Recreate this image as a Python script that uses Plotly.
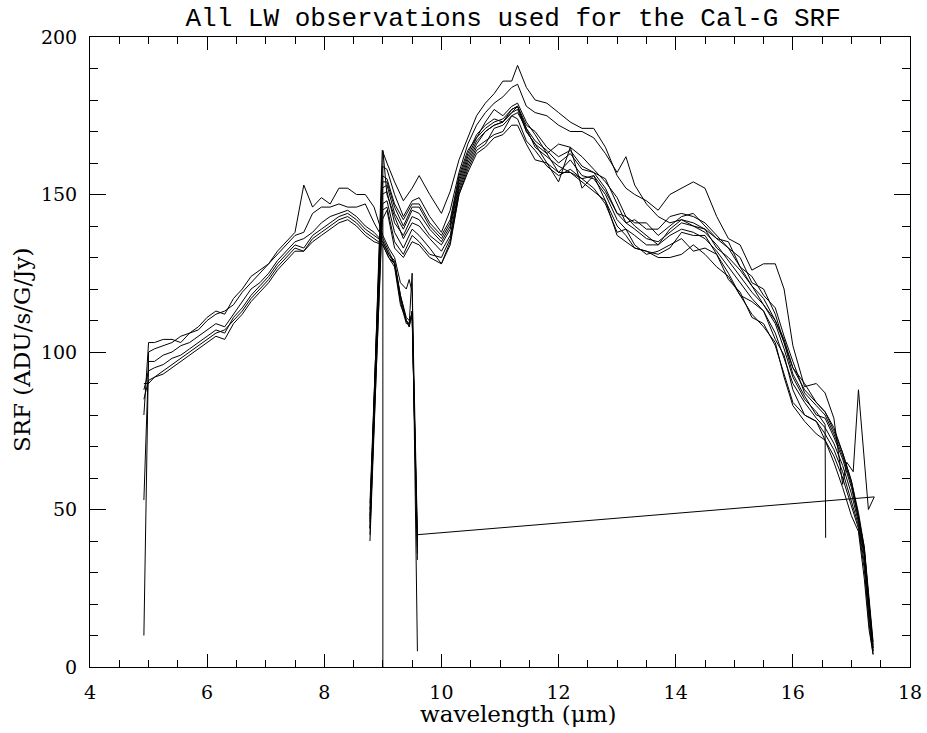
import plotly.graph_objects as go

# ---------------- data ----------------
# group 1 (short-wavelength segment)
wl1 = [4.92, 5.0, 5.1, 5.25, 5.4, 5.55, 5.7, 5.85, 6.0, 6.15, 6.3, 6.45, 6.6, 6.75, 6.9, 7.05,
       7.2, 7.35, 7.5, 7.65, 7.8, 7.95, 8.1, 8.25, 8.4, 8.55, 8.7, 8.85, 9.0, 9.1, 9.2, 9.3,
       9.4, 9.45, 9.5, 9.59]
g1_a = [80, 103, 103, 104, 104, 103, 106, 108, 111, 113, 112, 117, 120, 124, 126, 128, 132, 135,
        138, 153, 146, 149, 147, 152, 152, 150, 150, 146, 137, 133, 130, 122, 120, 123, 119, 42]
g1_b = [10, 100, 101, 102, 103, 105, 106, 107, 110, 112, 113, 115, 119, 122, 125, 128, 131, 134,
        137, 138, 144, 146, 146, 147, 146, 146, 147, 141, 136, 132, 128, 118, 110, 109, 125, 5]
g1_c = [53, 97, 97, 99, 100, 102, 103, 105, 107, 109, 108, 112, 116, 120, 122, 125, 129, 132,
        135, 136, 138, 141, 143, 144, 145, 143, 140, 138, 135, 131, 128, 117, 110, 108, 113, 34]
g1_d = [88, 94, 95, 96, 98, 99, 101, 103, 105, 107, 106, 111, 114, 118, 121, 124, 128, 131,
        134, 133, 137, 139, 141, 143, 144, 142, 139, 137, 135, 131, 129, 118, 111, 110, 112, 40]
g1_e = [85, 91, 92, 94, 96, 98, 100, 102, 104, 106, 107, 110, 113, 117, 120, 123, 127, 130,
        133, 132, 136, 138, 140, 142, 143, 141, 138, 136, 134, 130, 128, 116, 109, 109, 111, 38]
g1_f = [90, 90, 92, 93, 95, 97, 99, 101, 103, 105, 104, 109, 112, 116, 119, 122, 126, 129,
        132, 132, 135, 137, 139, 141, 142, 140, 137, 135, 134, 130, 127, 115, 110, 108, 113, 36]

# group 2 (long-wavelength segment)
wl2 = [8.78, 8.99, 9.07, 9.2, 9.35, 9.5, 9.62, 9.8, 10.0, 10.15, 10.3, 10.45, 10.6, 10.75, 10.9,
       11.05, 11.2, 11.3, 11.45, 11.6, 11.8, 12.0, 12.2, 12.4, 12.6, 12.8, 13.0, 13.15, 13.3,
       13.5, 13.7, 13.9, 14.1, 14.3, 14.5, 14.7, 14.9, 15.1, 15.3, 15.5, 15.7, 15.85, 16.0,
       16.2, 16.4, 16.55, 16.7, 16.85, 17.0, 17.12, 17.22, 17.3, 17.37]
N = None
g2_a = [44, 164, 160, 154, 148, 152, 156, 150, 144, 151, 161, 168, 175, 179, 182, 186, 186, 191,
        184, 180, 179, 176, 173, 171, 171, 165, 156, 152, 150, 148, 145, 150, 152, 154, 152, 143,
        136, 134, 126, 128, 128, 120, 102, 89, 90, 87, 79, 58, N, N, N, N, N]
g2_a_tail_wl = [16.92, 17.03, 17.12, 17.29, 17.39, 9.59]
g2_a_tail_val = [65, 62, 88, 50, 54, 42]
g2_b = [48, 159, 158, 150, 143, 148, 149, 143, 138, 145, 157, 166, 172, 176, 179, 181, 184, 185,
        178, 176, 175, 172, 170, 170, 168, 163, 157, 162, 153, 147, 143, 141, 142, 140, 139, 136,
        133, 127, 121, 117, 110, 104, 95, 88, 84, 81, 76, 68, 59, 48, 38, 20, 5]
g2_c = [46, 156, 155, 147, 142, 147, 147, 141, 137, 142, 156, 164, 168, 173, 177, 175, 178, 179,
        173, 169, 163, 166, 165, 162, 158, 154, 149, 143, 141, 141, 137, 140, 143, 144, 140, 136,
        135, 127, 124, 118, 114, 105, 97, 87, 83, 80, 74, 67, 58, 48, 37, 21, 7]
g2_d = [42, 152, 153, 144, 139, 145, 144, 139, 135, 140, 154, 162, 168, 171, 173, 174, 177, 178,
        171, 167, 164, 160, 163, 158, 157, 152, 144, 141, 139, 136, 135, 138, 141, 140, 138, 134,
        129, 124, 119, 115, 109, 101, 92, 85, 81, 77, N, N, N, N, N, N, N]
g2_d_tail_wl = [16.56]
g2_d_tail_val = [41]
g2_e_head_wl = [9.0, 9.0]
g2_e_head_val = [0, 164]
g2_e = [N, N, 150, 143, 136, 141, 140, 136, 132, 137, 152, 160, 166, 170, 172, 173, 176, 177,
        170, 166, 163, 157, 161, 156, 155, 150, 142, 139, 137, 134, 134, 137, 139, 138, 136, 132,
        127, 122, 117, 113, 106, 98, 90, 84, 79, 76, 71, 64, 55, 46, 35, 18, 6]
g2_f = [50, 147, 148, 138, 133, 139, 137, 133, 128, 134, 150, 158, 164, 166, 171, 172, 175, 176,
        171, 165, 162, 159, 157, 155, 156, 148, 140, 137, 133, 132, 131, 133, 138, 137, 137, 131,
        125, 118, 116, 113, 104, 99, 88, 80, 78, 74, 69, 62, 53, 45, 33, 16, 5]
g2_g = [40, 145, 146, 135, 131, 137, 135, 131, 130, 136, 151, 159, 165, 167, 169, 170, 175, 174,
        167, 164, 159, 156, 158, 155, 152, 147, 138, 139, 134, 131, 132, 134, 136, 132, 133, 131,
        123, 119, 111, 109, 102, 93, 84, 80, 78, 72, 67, 60, 51, 44, 31, 14, 4]
g2_h = [47, 150, 151, 141, 137, 143, 142, 137, 134, 139, 153, 161, 167, 170, 172, 173, 176, 178,
        170, 166, 160, 154, 165, 152, 156, 151, 144, 143, 140, 137, 134, 139, 142, 141, 139, 133,
        130, 126, 121, 115, 110, 103, 93, 86, 80, 79, 73, 66, 57, 47, 36, 20, 6]
g2_i = [44, 142, 145, 133, 130, 135, 134, 130, 128, 135, 150, 157, 163, 165, 168, 169, 172, 172,
        166, 161, 160, 157, 157, 154, 151, 148, 137, 135, 133, 132, 130, 130, 131, 134, 131, 127,
        124, 118, 112, 108, 103, 92, 83, 78, 74, 72, 65, 57, 48, 43, 28, 12, 4]
g2_j = [52, 154, 154, 146, 140, 146, 146, 140, 136, 141, 155, 163, 169, 172, 174, 173, 177, 178,
        172, 170, 165, 162, 164, 159, 157, 155, 147, 141, 142, 139, 139, 143, 144, 143, 141, 137,
        133, 130, 122, 120, 112, 103, 95, 90, 84, 81, 75, 68, 59, 49, 38, 22, 8]

x_ticks = [4, 6, 8, 10, 12, 14, 16, 18]
y_ticks = [0, 50, 100, 150, 200]

# ---------------- build ----------------
def series(wl, vals, head_wl=(), head_val=(), tail_wl=(), tail_val=()):
    xs, ys = list(head_wl), list(head_val)
    for w, v in zip(wl, vals):
        if v is not None:
            xs.append(w)
            ys.append(v)
    xs += list(tail_wl)
    ys += list(tail_val)
    return xs, ys

curves = []
for v in [g1_a, g1_b, g1_c, g1_d, g1_e, g1_f]:
    curves.append(series(wl1, v))
curves.append(series(wl2, g2_a, tail_wl=g2_a_tail_wl, tail_val=g2_a_tail_val))
curves.append(series(wl2, g2_b))
curves.append(series(wl2, g2_c))
curves.append(series(wl2, g2_d, tail_wl=g2_d_tail_wl, tail_val=g2_d_tail_val))
curves.append(series(wl2, g2_e, head_wl=g2_e_head_wl, head_val=g2_e_head_val))
for v in [g2_f, g2_g, g2_h, g2_i, g2_j]:
    curves.append(series(wl2, v))

fig = go.Figure()
for xs, ys in curves:
    fig.add_trace(go.Scatter(x=xs, y=ys, mode="lines",
                             line=dict(color="black", width=1), hoverinfo="skip"))

tickfont = dict(family="DejaVu Serif", size=19, color="black")
fig.update_layout(
    width=927, height=733,
    margin=dict(l=90, r=17, t=37, b=66, autoexpand=False),
    plot_bgcolor="white", paper_bgcolor="white",
    showlegend=False,
    title=dict(text="All LW observations used for the Cal-G SRF",
               font=dict(family="Liberation Mono", size=26, color="black"),
               x=0.516, xref="paper", xanchor="center",
               y=1 - 17 / 733, yref="container", yanchor="middle"),
)
fig.update_xaxes(range=[4, 18], tickvals=x_ticks, ticktext=[str(t) for t in x_ticks],
                 ticks="inside", ticklen=13, tickwidth=1, tickcolor="black",
                 showline=True, linecolor="black", linewidth=1, mirror="ticks",
                 showgrid=False, zeroline=False, tickfont=tickfont, ticklabelstandoff=8,
                 automargin=False,
                 minor=dict(ticks="inside", ticklen=7, dtick=0.5, tick0=4,
                            tickcolor="black", tickwidth=1, showgrid=False))
fig.update_yaxes(range=[0, 200], tickvals=y_ticks, ticktext=[str(t) for t in y_ticks],
                 ticks="inside", ticklen=16, tickwidth=1, tickcolor="black",
                 showline=True, linecolor="black", linewidth=1, mirror="ticks",
                 showgrid=False, zeroline=False, tickfont=tickfont, ticklabelstandoff=8,
                 automargin=False,
                 minor=dict(ticks="inside", ticklen=8, dtick=10, tick0=0,
                            tickcolor="black", tickwidth=1, showgrid=False))

fig.add_annotation(text="wavelength (μm)", xref="paper", yref="paper",
                   x=0.523, y=-(714 - 667) / 630, xanchor="center", yanchor="middle",
                   showarrow=False, font=dict(family="DejaVu Serif", size=23, color="black"))
fig.add_annotation(text="SRF (ADU/s/G/Jy)", xref="paper", yref="paper",
                   x=-(90 - 22) / 820, y=(667 - 350) / 630, xanchor="center", yanchor="middle",
                   textangle=-90, showarrow=False,
                   font=dict(family="DejaVu Serif", size=23, color="black"))

fig.write_html("out.html")
